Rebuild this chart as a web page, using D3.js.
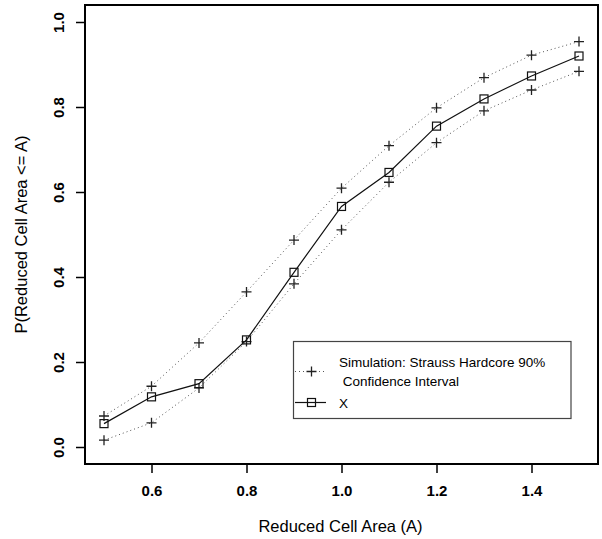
<!DOCTYPE html>
<html><head><meta charset="utf-8">
<script src="https://cdn.jsdelivr.net/npm/d3@7"></script>
<style>body{margin:0;background:#fff}svg{display:block}text{font-family:"Liberation Sans",Arial,Helvetica,sans-serif}</style>
</head><body>
<svg id="chart" width="602" height="539"></svg>
<script>
const areas = [0.5,0.6,0.7,0.8,0.9,1.0,1.1,1.2,1.3,1.4,1.5];
const upperCI = [0.073,0.143,0.245,0.365,0.487,0.609,0.709,0.798,0.869,0.922,0.954];
const lowerCI = [0.016,0.057,0.139,0.248,0.384,0.511,0.623,0.716,0.791,0.840,0.884];
const observedX = [0.055,0.118,0.149,0.252,0.411,0.566,0.646,0.755,0.819,0.873,0.920];
const xTicks = [0.6,0.8,1.0,1.2,1.4];
const yTicks = [0.0,0.2,0.4,0.6,0.8,1.0];
const legendLabels = ["Simulation: Strauss Hardcore 90%", " Confidence Interval", "X"];

const svg = d3.select("#chart");
const L = 85, R = 598, T = 5, B = 464;
const x = d3.scaleLinear().domain([0.46,1.54]).range([L,R]);
const y = d3.scaleLinear().domain([-0.04,1.04]).range([B,T]);

// axes
const xa = svg.append("g").attr("transform",`translate(0,${B})`)
  .call(d3.axisBottom(x).tickValues(xTicks).tickFormat(d3.format(".1f")).tickSize(9).tickPadding(12));
xa.select(".domain").remove();
xa.selectAll("line").attr("stroke","#000").attr("stroke-width",1.5);
xa.selectAll("text").attr("font-size",15).attr("font-weight","bold").attr("fill","#000");

const ya = svg.append("g").attr("transform",`translate(${L},0)`)
  .call(d3.axisLeft(y).tickValues(yTicks).tickFormat(d3.format(".1f")).tickSize(9).tickPadding(0));
ya.select(".domain").remove();
ya.selectAll("line").attr("stroke","#000").attr("stroke-width",1.5);
ya.selectAll("text").attr("font-size",15).attr("font-weight","bold").attr("fill","#000")
  .attr("text-anchor","middle").attr("dy",null).attr("x",null)
  .attr("transform","translate(-21,0) rotate(-90)");

// box
svg.append("rect").attr("x",L).attr("y",T).attr("width",R-L).attr("height",B-T)
  .attr("fill","none").attr("stroke","#000").attr("stroke-width",2);

// axis titles
svg.append("text").attr("x",(L+R)/2 - 1).attr("y",532).attr("text-anchor","middle")
  .attr("font-size",16.5).text("Reduced Cell Area (A)");
svg.append("text").attr("transform",`translate(27,${(T+B)/2}) rotate(-90)`).attr("text-anchor","middle")
  .attr("font-size",16.5).text("P(Reduced Cell Area <= A)");

const line = d3.line().x((d,i)=>x(areas[i])).y(d=>y(d));
function plus(g, cx, cy){
  g.append("path").attr("d",`M${cx-5},${cy}H${cx+5}M${cx},${cy-5}V${cy+5}`)
   .attr("stroke","#222").attr("stroke-width",1.3).attr("fill","none");
}
function square(g, cx, cy){
  g.append("rect").attr("x",cx-4).attr("y",cy-4).attr("width",8).attr("height",8)
   .attr("fill","none").attr("stroke","#111").attr("stroke-width",1.2);
}

const plot = svg.append("g");
[upperCI, lowerCI].forEach(s=>{
  plot.append("path").attr("d",line(s)).attr("fill","none").attr("stroke","#555")
    .attr("stroke-width",1).attr("stroke-dasharray","1,3");
  s.forEach((v,i)=>plus(plot, x(areas[i]), y(v)));
});
plot.append("path").attr("d",line(observedX)).attr("fill","none").attr("stroke","#111").attr("stroke-width",1.2);
observedX.forEach((v,i)=>square(plot, x(areas[i]), y(v)));

// legend
const lg = svg.append("g");
lg.append("rect").attr("x",293.5).attr("y",341.5).attr("width",277.5).attr("height",77)
  .attr("fill","#fff").attr("stroke","#444").attr("stroke-width",1.2);
lg.append("path").attr("d","M295,371.5H327").attr("stroke","#555").attr("stroke-dasharray","1,3");
plus(lg, 311.5, 371.5);
lg.append("path").attr("d","M295,402.5H326").attr("stroke","#111").attr("stroke-width",1.2);
square(lg, 311.5, 402.5);
lg.append("text").attr("x",339).attr("y",367).attr("font-size",13.5).text(legendLabels[0]);
lg.append("text").attr("x",339).attr("y",386).attr("font-size",13.5).style("white-space","pre").text(legendLabels[1]);
lg.append("text").attr("x",339).attr("y",408).attr("font-size",13.5).text(legendLabels[2]);
</script>
</body></html>
